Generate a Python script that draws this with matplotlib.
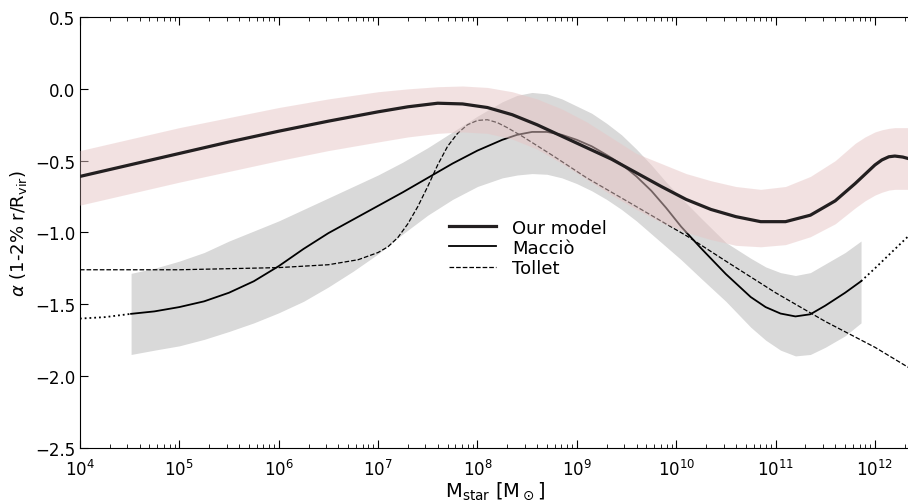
import numpy as np
import matplotlib.pyplot as plt

# log10(M_star) grid and curves
lm_model = [4.0, 4.5, 5.0, 5.5, 6.0, 6.5, 7.0, 7.3, 7.6, 7.85, 8.1, 8.35, 8.6, 8.85,
            9.1, 9.35, 9.6, 9.85, 10.1, 10.35, 10.6, 10.85, 11.1, 11.35, 11.6, 11.8,
            11.9, 12.0, 12.07, 12.14, 12.2, 12.28, 12.36]
our_model = [-0.61, -0.53, -0.45, -0.37, -0.295, -0.225, -0.16, -0.125, -0.10, -0.105,
             -0.13, -0.18, -0.25, -0.33, -0.41, -0.49, -0.585, -0.68, -0.77, -0.84,
             -0.89, -0.925, -0.925, -0.88, -0.78, -0.66, -0.595, -0.53, -0.495, -0.473,
             -0.468, -0.475, -0.49]
model_hi = [-0.43, -0.35, -0.27, -0.20, -0.13, -0.07, -0.02, 0.0, 0.015, 0.02,
            0.01, -0.02, -0.07, -0.14, -0.23, -0.34, -0.45, -0.52, -0.59, -0.64,
            -0.68, -0.70, -0.68, -0.61, -0.50, -0.38, -0.335, -0.30, -0.285, -0.275,
            -0.27, -0.27, -0.27]
model_lo = [-0.81, -0.73, -0.65, -0.575, -0.50, -0.43, -0.37, -0.335, -0.31, -0.30,
            -0.31, -0.35, -0.42, -0.52, -0.63, -0.74, -0.84, -0.93, -1.00, -1.05,
            -1.09, -1.10, -1.085, -1.03, -0.94, -0.83, -0.78, -0.74, -0.72, -0.705,
            -0.70, -0.70, -0.70]

lm_maccio = [4.515, 4.75, 5.0, 5.25, 5.5, 5.75, 6.0, 6.25, 6.5, 6.75, 7.0, 7.25, 7.5,
             7.75, 8.0, 8.25, 8.4, 8.55, 8.7, 8.85, 9.0, 9.15, 9.3, 9.45, 9.6, 9.75,
             9.9, 10.05, 10.25, 10.5, 10.75, 10.9, 11.05, 11.2, 11.35, 11.5, 11.7, 11.86]
maccio = [-1.567, -1.55, -1.52, -1.48, -1.42, -1.34, -1.235, -1.115, -1.005, -0.91,
          -0.815, -0.72, -0.62, -0.52, -0.43, -0.355, -0.32, -0.30, -0.30, -0.32,
          -0.355, -0.40, -0.46, -0.525, -0.61, -0.71, -0.83, -0.96, -1.11, -1.29,
          -1.45, -1.52, -1.565, -1.585, -1.57, -1.51, -1.42, -1.34]
maccio_hi = [-1.285, -1.25, -1.20, -1.14, -1.06, -0.99, -0.92, -0.84, -0.76, -0.68,
             -0.60, -0.51, -0.41, -0.30, -0.19, -0.09, -0.045, -0.025, -0.035, -0.07,
             -0.12, -0.17, -0.24, -0.32, -0.42, -0.53, -0.65, -0.76, -0.90, -1.07,
             -1.18, -1.24, -1.28, -1.30, -1.28, -1.22, -1.14, -1.06]
maccio_lo = [-1.85, -1.82, -1.79, -1.745, -1.69, -1.63, -1.56, -1.48, -1.38, -1.27,
             -1.15, -1.01, -0.88, -0.77, -0.68, -0.62, -0.60, -0.59, -0.595, -0.62,
             -0.66, -0.71, -0.77, -0.84, -0.92, -1.01, -1.10, -1.19, -1.32, -1.48,
             -1.66, -1.75, -1.82, -1.86, -1.85, -1.80, -1.72, -1.63]
lm_maccio_left = [4.0, 4.25, 4.515]
maccio_left = [-1.60, -1.59, -1.567]
lm_maccio_right = [11.86, 12.0, 12.15, 12.36]
maccio_right = [-1.34, -1.25, -1.15, -1.01]

lm_tollet = [4.0, 5.0, 6.0, 6.5, 6.8, 7.0, 7.1, 7.2, 7.3, 7.4, 7.5, 7.6, 7.7, 7.8,
             7.9, 8.0, 8.1, 8.2, 8.3, 8.45, 8.77, 9.1, 9.45, 10.12, 10.5, 11.0, 11.5,
             12.0, 12.36]
tollet = [-1.26, -1.26, -1.245, -1.225, -1.19, -1.14, -1.10, -1.035, -0.94, -0.82,
          -0.68, -0.53, -0.40, -0.31, -0.25, -0.22, -0.215, -0.235, -0.27, -0.33,
          -0.47, -0.62, -0.76, -1.03, -1.20, -1.42, -1.62, -1.80, -1.95]


def m(a):
    return 10.0 ** np.array(a)


fig = plt.figure(figsize=(9.08, 5.02), dpi=100)
ax = fig.add_axes([0.088, 0.106, 0.915, 0.858])

ax.fill_between(m(lm_maccio), maccio_lo, maccio_hi, color='#d9d9d9', lw=0, zorder=1)
ax.plot(m(lm_maccio), maccio, color='k', lw=1.3, zorder=2, label='Macciò')
ax.plot(m(lm_maccio_left), maccio_left, color='k', lw=1.3, ls=':', zorder=2)
ax.plot(m(lm_maccio_right), maccio_right, color='k', lw=1.3, ls=':', zorder=2)
ax.plot(m(lm_tollet), tollet, color='k', lw=0.9, ls='--', zorder=2, label='Tollet')
ax.fill_between(m(lm_model), model_lo, model_hi, color='#e7c5c5', alpha=0.5, lw=0, zorder=3)
ax.plot(m(lm_model), our_model, color='#231f20', lw=2.3, zorder=4, label='Our model')

ax.set_xscale('log')
ax.set_xlim(1e4, 10 ** 12.36)
ax.set_ylim(-2.5, 0.5)
ax.set_yticks([-2.5, -2.0, -1.5, -1.0, -0.5, 0.0, 0.5])
ax.set_xticks(10.0 ** np.arange(4, 13))
ax.tick_params(which='both', direction='in', top=True, right=False, labelsize=12)
ax.tick_params(which='major', length=6)
ax.tick_params(which='minor', length=3)
ax.tick_params(axis='x', pad=8)
ax.spines['right'].set_visible(False)

ax.set_ylabel(r'$\alpha$ (1-2% r/R$_{\rm vir}$)', fontsize=13)
ax.set_xlabel(r'M$_{\rm star}$ [M$_\odot$]', fontsize=14, labelpad=0)

h, l = ax.get_legend_handles_labels()
order = [2, 0, 1]
ax.legend([h[i] for i in order], [l[i] for i in order], loc='upper left',
          bbox_to_anchor=(0.425, 0.57), frameon=False, fontsize=13,
          handlelength=2.6, labelspacing=0.12, handletextpad=0.9)

fig.savefig('out.png', dpi=100)
